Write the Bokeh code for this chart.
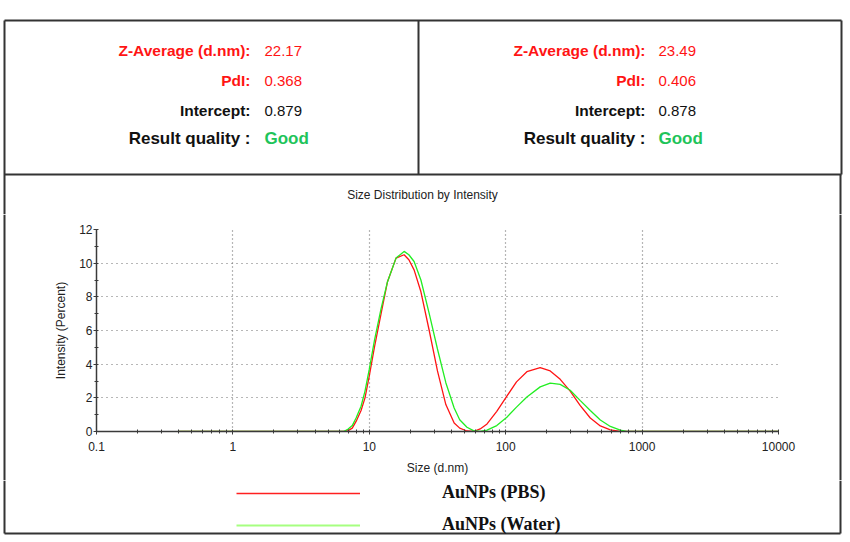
from bokeh.plotting import figure
from bokeh.layouts import column, row
from bokeh.models import (Range1d, FixedTicker, CustomJSTickFormatter, Legend, LegendItem)
from bokeh.core.properties import value
from bokeh.embed import file_html
from bokeh.resources import INLINE

# ---------------- data ----------------
size_nm = [0.4, 1, 2, 4, 6.5, 7.0, 7.5, 8.0, 8.7, 9.3, 10, 10.9, 12.2, 13.6, 15.7,
           18.0, 19.5, 21.3, 23.9, 27.5, 31.6, 36.4, 41.9, 46, 52, 58, 65, 73, 86,
           102, 120, 143, 179, 212, 251, 297, 351, 417, 494, 585, 692, 770, 1000, 10000]
pbs_intensity = [0, 0, 0, 0, 0, 0.05, 0.2, 0.6, 1.25, 2.0, 3.3, 5.0, 7.0, 8.9, 10.3,
                 10.5, 10.2, 9.6, 8.3, 6.0, 3.6, 1.6, 0.5, 0.2, 0.03, 0, 0.15, 0.45, 1.2,
                 2.1, 2.95, 3.55, 3.8, 3.6, 3.1, 2.4, 1.55, 0.8, 0.33, 0.1, 0.01, 0, 0, 0]
water_intensity = [0, 0, 0, 0, 0, 0.15, 0.35, 0.8, 1.5, 2.4, 3.7, 5.4, 7.3, 8.9, 10.3,
                   10.7, 10.5, 10.1, 9.0, 7.0, 4.9, 2.9, 1.4, 0.7, 0.25, 0.05, 0, 0.08, 0.35,
                   0.85, 1.45, 2.05, 2.65, 2.88, 2.8, 2.45, 1.85, 1.25, 0.68, 0.3, 0.08, 0, 0, 0]

series_names = ["AuNPs (PBS)", "AuNPs (Water)"]
chart_title = "Size Distribution by Intensity"
z_average = ["22.17", "23.49"]
pdi = ["0.368", "0.406"]
intercept = ["0.879", "0.878"]
quality = ["Good", "Good"]

x_ticks = [0.1, 1, 10, 100, 1000, 10000]
x_minor = [m * d for d in [0.1, 1, 10, 100, 1000] for m in range(2, 10)]
y_ticks = [0, 2, 4, 6, 8, 10, 12]
y_minor = [1, 3, 5, 7, 9, 11]

# ---------------- layout constants (page pixels) ----------------
W, H = 850, 542
TOP_H = 214          # info boxes + chart title
BOX_BOTTOM = 174
CHART_BOTTOM = 480   # chart figure ends here, legend strip below
LS_W, RS_W = 6, 12   # border strips beside the chart
FL, FR, FT, FB = 96, 778, 229, 431   # plot frame in page pixels

FONT = "Liberation Sans"
RED = "#ff1414"
GREEN_TXT = "#1ec45a"
BORDER = "#333333"
BW = 2
NAN = float("nan")


def no_align(f):
    try:
        f.frame_align = False
    except Exception:
        pass
    return f


def deco(width, height, y_top, y_bottom, x_left=0):
    """A figure whose frame is its whole canvas, in page-pixel coordinates."""
    f = figure(width=width, height=height,
               x_range=Range1d(x_left, x_left + width),
               y_range=Range1d(y_bottom, y_top),
               x_axis_location=None, y_axis_location=None,
               output_backend="svg", toolbar_location=None,
               min_border=0, min_border_left=0, min_border_right=0,
               min_border_top=0, min_border_bottom=0)
    f.grid.visible = False
    f.outline_line_color = None
    f.background_fill_color = "white"
    f.border_fill_color = "white"
    return no_align(f)


# ---------- top info boxes + title ----------
top = deco(W, TOP_H, 0, TOP_H)
top.segment(x0=[4, 4, 4, 418, 841, 840], y0=[20, BOX_BOTTOM, 20, 20, 20, BOX_BOTTOM],
            x1=[841, 841, 4, 418, 841, 840], y1=[20, BOX_BOTTOM, TOP_H, BOX_BOTTOM, BOX_BOTTOM, TOP_H],
            line_color=BORDER, line_width=BW)

rows_y = [50, 80, 110, 138]
label_texts = ["Z-Average (d.nm):", "PdI:", "Intercept:", "Result quality :"]
label_colors = [RED, RED, "#111111", "#111111"]
label_sizes = ["15.5px", "15.5px", "15.5px", "17px"]
value_colors = [RED, RED, "#111111", GREEN_TXT]
value_weights = ["normal", "normal", "normal", "bold"]
value_sizes = ["15px", "15px", "15px", "17px"]
label_right = [250, 645]
value_left = [264, 658]

for i in range(2):
    vals = [z_average[i], pdi[i], intercept[i], quality[i]]
    for j in range(4):
        top.text(x=[label_right[i]], y=[rows_y[j]], text=[label_texts[j]],
                 text_align="right", text_baseline="middle", text_font=value(FONT),
                 text_font_size=label_sizes[j], text_font_style="bold",
                 text_color=label_colors[j])
        top.text(x=[value_left[i]], y=[rows_y[j]], text=[vals[j]],
                 text_align="left", text_baseline="middle", text_font=value(FONT),
                 text_font_size=value_sizes[j], text_font_style=value_weights[j],
                 text_color=value_colors[j])

top.text(x=[422], y=[194], text=[chart_title], text_align="center",
         text_baseline="middle", text_font=value(FONT), text_font_size="12px",
         text_color="#222222")

# ---------- side strips ----------
ls = deco(LS_W, CHART_BOTTOM - TOP_H, TOP_H, CHART_BOTTOM, 0)
ls.segment(x0=[4], y0=[TOP_H], x1=[4], y1=[CHART_BOTTOM], line_color=BORDER, line_width=BW)
rs = deco(RS_W, CHART_BOTTOM - TOP_H, TOP_H, CHART_BOTTOM, W - RS_W)
rs.segment(x0=[840], y0=[TOP_H], x1=[840], y1=[CHART_BOTTOM], line_color=BORDER, line_width=BW)

# ---------- chart ----------
CW = W - LS_W - RS_W
p = figure(width=CW, height=CHART_BOTTOM - TOP_H, x_axis_type="log",
           x_range=Range1d(0.1, 10000), y_range=Range1d(0, 12),
           output_backend="svg", toolbar_location=None,
           min_border_left=FL - LS_W, min_border_right=(W - RS_W) - FR,
           min_border_top=FT - TOP_H, min_border_bottom=CHART_BOTTOM - FB)
no_align(p)
p.outline_line_color = None
p.background_fill_color = "white"
p.border_fill_color = "white"

xt = FixedTicker(ticks=x_ticks, minor_ticks=x_minor)
yt = FixedTicker(ticks=y_ticks, minor_ticks=y_minor)
p.xaxis.ticker = xt
p.yaxis.ticker = yt
p.xgrid.ticker = xt
p.ygrid.ticker = yt
p.xaxis.formatter = CustomJSTickFormatter(code="return tick.toString();")

p.xgrid.grid_line_dash = "1 3"
p.ygrid.grid_line_dash = "1 4"
for g in (p.xgrid, p.ygrid):
    g.grid_line_color = "#6e6e6e"
    g.grid_line_width = 1.2

for ax in (p.xaxis, p.yaxis):
    ax.axis_line_color = "#3a3a3a"
    ax.axis_line_width = 1.5
    ax.major_tick_line_color = "#3a3a3a"
    ax.minor_tick_line_color = "#3a3a3a"
    ax.major_tick_in = 2
    ax.major_tick_out = 3
    ax.minor_tick_in = 2
    ax.minor_tick_out = 2
    ax.major_label_text_font = FONT
    ax.major_label_text_font_size = "12px"
    ax.major_label_text_color = "#222222"
    ax.axis_label_text_font = FONT
    ax.axis_label_text_font_size = "12px"
    ax.axis_label_text_font_style = "normal"
    ax.axis_label_text_color = "#222222"

p.xaxis.axis_label = "Size (d.nm)"
p.yaxis.axis_label = "Intensity (Percent)"
p.xaxis.major_label_standoff = 7
p.yaxis.major_label_standoff = 1
p.xaxis.axis_label_standoff = 7
p.yaxis.axis_label_standoff = 8

p.line(size_nm, pbs_intensity, line_color=RED, line_width=1.3)
p.line(size_nm, water_intensity, line_color="#22ee22", line_width=1.3)

# ---------- legend strip ----------
LEG_H = H - CHART_BOTTOM
leg = deco(W, LEG_H, CHART_BOTTOM, H)
leg.segment(x0=[4, 840, 4], y0=[CHART_BOTTOM, CHART_BOTTOM, 533],
            x1=[4, 840, 840], y1=[533, 533, 533], line_color=BORDER, line_width=BW)
# legend proxies (no visible data, only their legend swatches are drawn)
r_pbs = leg.line(x=[NAN], y=[NAN], line_color="#ff2020", line_width=1.5)
r_wat = leg.line(x=[NAN], y=[NAN], line_color="#a6ff80", line_width=2)
legend = Legend(items=[LegendItem(label=series_names[0], renderers=[r_pbs]),
                       LegendItem(label=series_names[1], renderers=[r_wat])],
                location=(236, H - 535), orientation="vertical",
                glyph_width=124, glyph_height=20, label_height=20,
                label_standoff=82, spacing=11, padding=0, margin=0,
                border_line_color=None, background_fill_alpha=0,
                label_text_font="Liberation Serif", label_text_font_style="bold",
                label_text_font_size="18px", label_text_color="#111111")
leg.add_layout(legend)

layout = column(top, row(ls, p, rs), leg)
open("out.html", "w").write(file_html(layout, INLINE))
